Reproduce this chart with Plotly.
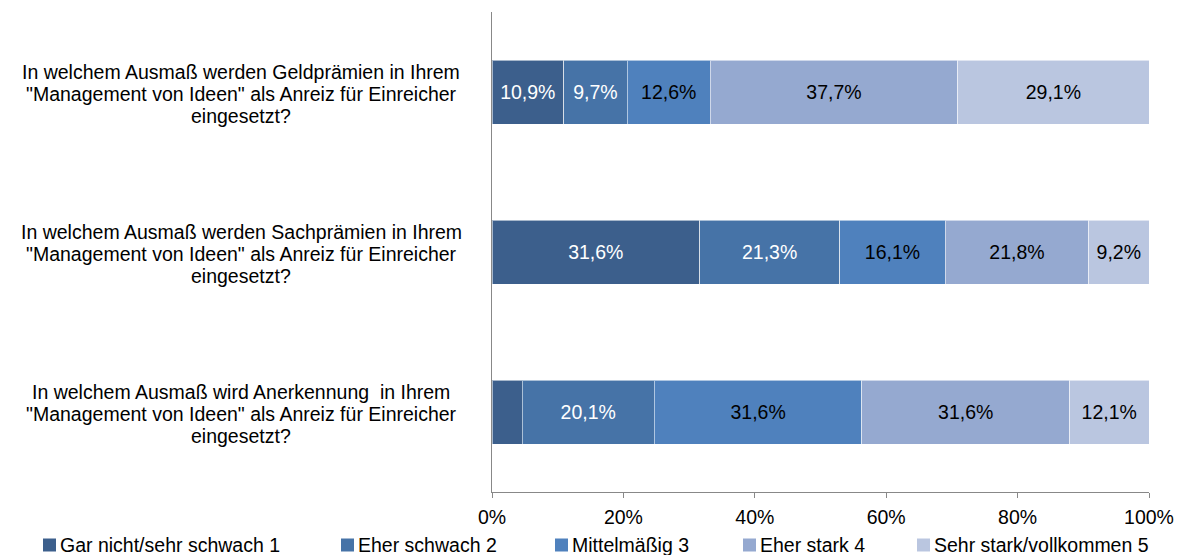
import plotly.graph_objects as go

QUESTIONS = [
    ["In welchem Ausmaß werden Geldprämien in Ihrem",
     "\"Management von Ideen\" als Anreiz für Einreicher",
     "eingesetzt?"],
    ["In welchem Ausmaß werden Sachprämien in Ihrem",
     "\"Management von Ideen\" als Anreiz für Einreicher",
     "eingesetzt?"],
    ["In welchem Ausmaß wird Anerkennung  in Ihrem",
     "\"Management von Ideen\" als Anreiz für Einreicher",
     "eingesetzt?"],
]
CATEGORIES = ["Geld", "Sach", "Anerkennung"]

ANSWERS = [
    "Gar nicht/sehr schwach 1",
    "Eher schwach 2",
    "Mittelmäßig 3",
    "Eher stark 4",
    "Sehr stark/vollkommen 5",
]

# percentages per answer, order: Geld, Sach, Anerkennung
GAR_NICHT = [10.9, 31.6, 4.6]
EHER_SCHWACH = [9.7, 21.3, 20.1]
MITTEL = [12.6, 16.1, 31.6]
EHER_STARK = [37.7, 21.8, 31.6]
SEHR_STARK = [29.1, 9.2, 12.1]

SERIES = [GAR_NICHT, EHER_SCHWACH, MITTEL, EHER_STARK, SEHR_STARK]

COLORS = ["#3C5F8C", "#4673A7", "#4F81BD", "#95A9D0", "#BAC6E0"]
TEXT_COLORS = ["white", "white", "black", "black", "black"]

FONT = "Liberation Sans, Arial, sans-serif"
FS = 19.5

# figure geometry (page body adds 8px offset)
W, H = 1175, 547
ML, MR, MT, MB = 484, 34, 4, 63
PW = W - ML - MR
PH = H - MT - MB


def px_x(px):
    return (px - ML) / PW


def px_y(py):
    return (H - MB - py) / PH


# legend square left edges (figure px)
LEGEND_X = [35, 333, 547, 735, 909]
LEGEND_Y = 537

fig = go.Figure()

for i, (name, vals) in enumerate(zip(ANSWERS, SERIES)):
    labels = [f"{v:.1f}%".replace(".", ",") if v >= 5 else "" for v in vals]
    fig.add_trace(go.Bar(
        y=CATEGORIES,
        x=vals,
        orientation="h",
        name=name,
        width=0.4,
        marker=dict(color=COLORS[i], line=dict(color="rgba(255,255,255,0.55)", width=1)),
        text=labels,
        textposition="inside",
        insidetextanchor="middle",
        textangle=0,
        constraintext="none",
        insidetextfont=dict(color=TEXT_COLORS[i], size=FS, family=FONT),
        hoverinfo="x+name",
        showlegend=False,
    ))

    # legend entry drawn by hand to match spacing
    lx = LEGEND_X[i]
    fig.add_shape(
        type="rect", xref="paper", yref="paper",
        x0=px_x(lx), x1=px_x(lx + 13),
        y0=px_y(LEGEND_Y - 6.5), y1=px_y(LEGEND_Y + 6.5),
        fillcolor=COLORS[i], line=dict(width=0),
    )
    fig.add_annotation(
        x=px_x(lx + 15), xref="paper",
        y=px_y(LEGEND_Y), yref="paper",
        text=name, showarrow=False,
        xanchor="left", yanchor="middle",
        font=dict(size=FS, family=FONT, color="black"),
    )

# category labels, one line per annotation for a 22px line pitch
for lines, cat in zip(QUESTIONS, CATEGORIES):
    for j, line in enumerate(lines):
        fig.add_annotation(
            x=px_x(233), xref="paper",
            y=cat, yref="y",
            yshift=(1 - j) * 22 - 1.5,
            text=line, showarrow=False,
            xanchor="center", yanchor="middle", align="center",
            font=dict(size=FS, family=FONT, color="black"),
        )

fig.update_layout(
    width=W,
    height=H,
    margin=dict(l=ML, r=MR, t=MT, b=MB),
    barmode="stack",
    plot_bgcolor="white",
    paper_bgcolor="white",
    font=dict(family=FONT, size=FS, color="black"),
    showlegend=False,
)

fig.update_xaxes(
    range=[0, 100], dtick=20, ticksuffix="%",
    showgrid=False, zeroline=False,
    showline=True, linecolor="#888888", linewidth=1,
    ticks="outside", ticklen=5, tickcolor="#888888",
    ticklabelstandoff=3,
    tickfont=dict(size=FS, family=FONT, color="black"),
)
fig.update_yaxes(
    categoryorder="array", categoryarray=CATEGORIES[::-1],
    showticklabels=False, showgrid=False, zeroline=False,
    showline=True, linecolor="#888888", linewidth=1,
    range=[-0.5, 2.5],
)

fig.write_html("out.html")
